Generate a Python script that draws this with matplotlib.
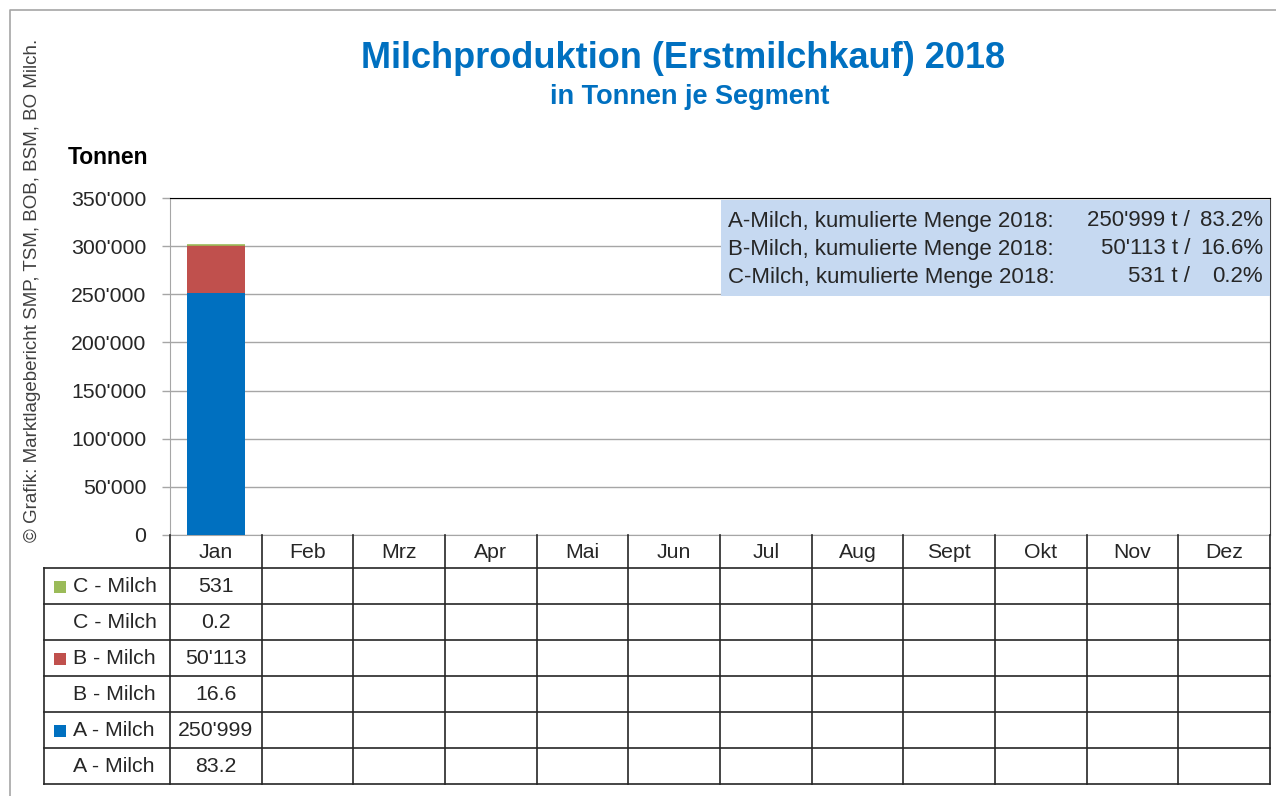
import numpy as np
import matplotlib
matplotlib.use('Agg')
import matplotlib.pyplot as plt
from matplotlib.ticker import FuncFormatter, MultipleLocator
from matplotlib.patches import Rectangle

plt.rcParams['font.family'] = ['Liberation Sans', 'DejaVu Sans']

# Data
months = ['Jan', 'Feb', 'Mrz', 'Apr', 'Mai', 'Jun', 'Jul', 'Aug', 'Sept', 'Okt', 'Nov', 'Dez']
a_milch = [250999]   # tonnes, only January reported
b_milch = [50113]
c_milch = [531]
a_pct = [83.2]
b_pct = [16.6]
c_pct = [0.2]
segments = ['A-Milch', 'B-Milch', 'C-Milch']
totals_t = [250999, 50113, 531]
totals_pct = [83.2, 16.6, 0.2]

col_a = '#0070C0'
col_b = '#C0504D'
col_c = '#9BBB59'
blue_title = '#0070C0'
txt = '#262626'
fs = 15.3

W, H = 1276, 796
fig = plt.figure(figsize=(W/100, H/100), dpi=100)

def fx(px):
	return px/W
def fy(py):
	return 1 - py/H

def fmt(v):
	return '{:,}'.format(int(round(v))).replace(',', "'")

# Plot area (pixel layout)
x0, x1 = 170, 1270
y_top, y_bot = 198, 535
ax = fig.add_axes([fx(x0), fy(y_bot), fx(x1-x0), (y_bot-y_top)/H])

n = len(months)
xs = np.arange(n)
a = np.array(a_milch + [0]*(n-len(a_milch)), dtype=float)
b = np.array(b_milch + [0]*(n-len(b_milch)), dtype=float)
c = np.array(c_milch + [0]*(n-len(c_milch)), dtype=float)
bw = 0.63
ax.bar(xs, a, bw, color=col_a, zorder=3)
ax.bar(xs, b, bw, bottom=a, color=col_b, zorder=3)
# thin C segment: give it an edge so it stays visible like in the original
ax.bar(xs, c, bw, bottom=a+b, color=col_c, edgecolor=np.where(c > 0, col_c, 'none'), lw=1.2, zorder=3)

ax.set_xlim(-0.5, n-0.5)
ax.set_ylim(0, 350000)
ax.yaxis.set_major_locator(MultipleLocator(50000))
ax.yaxis.set_major_formatter(FuncFormatter(lambda v, p: fmt(v)))
ax.grid(True, axis='y', color='#A6A6A6', lw=1, zorder=0)
ax.set_xticks([])
ax.tick_params(axis='y', length=6, width=1, color='#A6A6A6', labelsize=fs, labelcolor=txt, pad=11)
for s in ['left', 'bottom']:
	ax.spines[s].set_color('#A6A6A6')
ax.spines['top'].set_color('#000000')
ax.spines['right'].set_color('#404040')
ax.set_axisbelow(True)

# Info box
fig.add_artist(Rectangle((fx(721), fy(296)), fx(1270-721), (296-200)/H,
	transform=fig.transFigure, facecolor='#C6D9F1', edgecolor='none', zorder=4))
for i, (seg, t, p) in enumerate(zip(segments, totals_t, totals_pct)):
	yy = fy(221 + i*28)
	fig.text(fx(728), yy, seg + ', kumulierte Menge 2018:', fontsize=16, color=txt, va='center', zorder=5)
	fig.text(fx(1190), yy, fmt(t) + ' t /', fontsize=16, color=txt, va='center', ha='right', zorder=5)
	fig.text(fx(1263), yy, '{:.1f}%'.format(p), fontsize=16, color=txt, va='center', ha='right', zorder=5)

# Titles
fig.text(fx(683), fy(58), 'Milchproduktion (Erstmilchkauf) 2018', fontsize=26, fontweight='bold',
	color=blue_title, ha='center', va='center')
fig.text(fx(690), fy(97), 'in Tonnen je Segment', fontsize=19.5, fontweight='bold',
	color=blue_title, ha='center', va='center')
fig.text(fx(68), fy(158), 'Tonnen', fontsize=16.5, fontweight='bold', color='#000000', va='center')
fig.text(fx(33), fy(290), '\u00a9 Grafik: Marktlagebericht SMP, TSM, BOB, BSM, BO Milch.', fontsize=13.5,
	color='#404040', rotation=90, ha='center', va='center')

# Outer frame (top and left visible)
ov = fig.add_axes([0, 0, 1, 1], zorder=-1)
ov.set_xlim(0, W)
ov.set_ylim(H, 0)
ov.axis('off')
ov.plot([10, 10, W], [H, 10, 10], color='#A6A6A6', lw=1.2)

# Data table
tb = fig.add_axes([0, 0, 1, 1], zorder=6)
tb.set_xlim(0, W)
tb.set_ylim(H, 0)
tb.axis('off')
tb.patch.set_alpha(0)
cw = (x1 - x0)/n
row_h = 36
head_top, head_bot = y_bot, 568
t_left = 44
rows = [('C - Milch', col_c, c_milch, 'int'),
	('C - Milch', None, c_pct, 'pct'),
	('B - Milch', col_b, b_milch, 'int'),
	('B - Milch', None, b_pct, 'pct'),
	('A - Milch', col_a, a_milch, 'int'),
	('A - Milch', None, a_pct, 'pct')]
t_bot = head_bot + row_h*len(rows)
lc = '#262626'
# header verticals and month labels
for j in range(n+1):
	xv = x0 + j*cw
	tb.plot([xv, xv], [head_top, t_bot], color=lc, lw=1.2)
for j, m in enumerate(months):
	tb.text(x0 + (j+0.5)*cw, (head_top+head_bot)/2 + 1, m, fontsize=fs, color=txt, ha='center', va='center')
tb.plot([t_left, t_left], [head_bot, t_bot], color=lc, lw=1.2)
for i in range(len(rows)+1):
	yh = head_bot + i*row_h
	tb.plot([t_left, x1], [yh, yh], color=lc, lw=1.2)
for i, (lab, col, vals, kind) in enumerate(rows):
	yc = head_bot + (i+0.5)*row_h + 1
	if col is not None:
		tb.add_patch(Rectangle((54, yc-6), 12, 12, facecolor=col, edgecolor='none'))
	tb.text(73, yc, lab, fontsize=fs, color=txt, ha='left', va='center')
	for j, v in enumerate(vals):
		s = fmt(v) if kind == 'int' else '{:.1f}'.format(v)
		tb.text(x0 + (j+0.5)*cw, yc, s, fontsize=fs, color=txt, ha='center', va='center')

fig.savefig('out.png', dpi=100)
